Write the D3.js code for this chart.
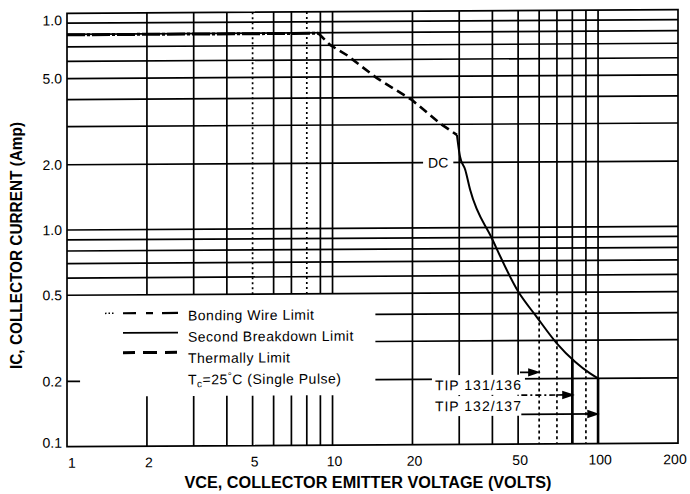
<!DOCTYPE html>
<html>
<head>
<meta charset="utf-8">
<script src="https://cdn.jsdelivr.net/npm/d3@7"></script>
<style>
  body { margin: 0; background: #fff; }
  svg { display: block; font-family: "Liberation Sans", Arial, sans-serif; }
</style>
</head>
<body>
<svg id="chart"></svg>
<script>
// values
const xTickValues = [1, 2, 5, 10, 20, 50, 100, 200];
const yTickValues = [10, 5, 2, 1, 0.5, 0.2, 0.1];
const yTickLabels = ["1.0", "5.0", "2.0", "1.0", "0.5", "0.2", "0.1"];
const xGridValues = [2, 3, 4, 5, 6, 7, 8, 9, 10, 20, 30, 40, 50, 60, 70, 80, 90, 100];
const yGridValues = [0.5, 0.6, 0.7, 0.8, 0.9, 1, 2, 3, 4, 5, 6, 7, 8, 9];
const yGridLowValues = [0.2, 0.3, 0.4];

// limit curves [VCE, IC]
const bondingWire = [[1, 7.96], [8.84, 7.96]];
const thermalLimit = [[8.84, 7.96], [9.79, 7.03], [11.3, 6.31], [14.7, 4.92], [19.9, 3.90], [25.4, 3.03], [29.4, 2.68]];
const secondBreakdown = [[29.4, 2.68], [30.2, 2.13], [31.6, 1.85], [33.0, 1.49], [39.8, 0.892], [50.1, 0.504],
  [58.7, 0.386], [69.9, 0.291], [81.9, 0.239], [93.3, 0.211], [100, 0.2]];

// device voltage limits and their labels
const tipVoltages = [80, 100];
const tipLabels = ["TIP 131/136", "TIP 132/137"];
const tipArrows = [
  { x0: 50.8, x1: 59.4, v: 0.214 },
  { x0: 69.9, x1: 79.8, v: 0.168 },
  { x0: 90.6, x1: 99.2, v: 0.137 },
];
const tipLeaders = [
  { x0: 51.4, x1: 69.9, v: 0.168, dashed: true },
  { x0: 51.4, x1: 100, v: 0.137, dashed: false },
];
const legendLabels = ["Bonding Wire Limit", "Second Breakdown Limit", "Thermally Limit"];

// constants
const width = 690;
const height = 494;
const ink = "#000";

const svg = d3.select('#chart')
  .attr('width', width)
  .attr('height', height);

// the scan is slightly sheared: right side sits a few px higher
const chart = svg.append('g')
  .attr('transform', 'skewY(-0.338)');

const x = d3.scaleLog().domain([1, 200]).range([67, 678]);
const y = d3.scaleLog().domain([0.1, 10]).range([447.1, 13.7]);

const grid = chart.append('g')
  .attr('stroke', ink)
  .attr('stroke-width', 1.7)
  .attr('fill', 'none');

// vertical grid, upper part (10 down to 0.5)
grid.selectAll('.vUp')
  .data(xGridValues)
  .enter().append('line')
  .attr('class', 'vUp')
  .attr('x1', d => x(d)).attr('x2', d => x(d))
  .attr('y1', y(10)).attr('y2', y(0.5))
  .attr('stroke-dasharray', d => (d === 5 || d === 8) ? '2,3' : null);

// vertical grid, lower part
grid.selectAll('.vLow')
  .data(xGridValues)
  .enter().append('line')
  .attr('class', 'vLow')
  .attr('x1', d => x(d)).attr('x2', d => x(d))
  .attr('y1', d => d <= 10 ? y(0.17) : y(0.5))
  .attr('y2', y(0.1))
  .attr('stroke-dasharray', d => (d === 60 || d === 70 || d === 90) ? '3,3' : null);

// horizontal grid, upper part
grid.selectAll('.hUp')
  .data(yGridValues)
  .enter().append('line')
  .attr('class', 'hUp')
  .attr('x1', x(1)).attr('x2', x(200))
  .attr('y1', d => y(d)).attr('y2', d => y(d));

// horizontal grid, lower right part
grid.selectAll('.hLow')
  .data(yGridLowValues)
  .enter().append('line')
  .attr('class', 'hLow')
  .attr('x1', x(14.5)).attr('x2', x(200))
  .attr('y1', d => y(d)).attr('y2', d => y(d));

// short stub of the 0.2 line at the left border
grid.append('line')
  .attr('x1', x(1)).attr('x2', x(1.12))
  .attr('y1', y(0.2)).attr('y2', y(0.2));

// frame
grid.append('rect')
  .attr('x', x(1)).attr('y', y(10))
  .attr('width', x(200) - x(1))
  .attr('height', y(0.1) - y(10));

// tick labels
chart.selectAll('.yLabel')
  .data(yTickValues)
  .enter().append('text')
  .attr('class', 'yLabel')
  .attr('x', x(1) - 5)
  .attr('y', d => Math.min(Math.max(y(d), y(10) + 7), y(0.1) - 4) + 5)
  .attr('text-anchor', 'end')
  .attr('font-size', 14)
  .text((d, i) => yTickLabels[i]);

chart.selectAll('.xLabel')
  .data(xTickValues)
  .enter().append('text')
  .attr('class', 'xLabel')
  .attr('x', d => Math.min(Math.max(x(d) + 2, x(1) + 5), x(200) - 3))
  .attr('y', y(0.1) + 21)
  .attr('text-anchor', 'middle')
  .attr('font-size', 14)
  .text(d => d);

// annotation texts with white boxes that knock out the grid behind them
const notes = chart.append('g').attr('font-size', 14);

const dcText = notes.append('text')
  .attr('x', x(22.9))
  .attr('y', y(2) + 5)
  .text('DC');

const tipText = notes.selectAll('.tip')
  .data(tipLabels)
  .enter().append('text')
  .attr('class', 'tip')
  .attr('x', x(24.3))
  .attr('y', (d, i) => y(0.2) + 11 + i * 21)
  .attr('letter-spacing', 1)
  .text(d => d);

function knockOut(node, padX, padY) {
  const b = node.getBBox();
  chart.insert('rect', () => notes.node())
    .attr('x', b.x - padX).attr('y', b.y - padY)
    .attr('width', b.width + 2 * padX).attr('height', b.height + 2 * padY)
    .attr('fill', '#fff');
}
knockOut(dcText.node(), 5, 0);
tipText.each(function() { knockOut(this, 3, 2); });

// limit curves
const line = d3.line().x(d => x(d[0])).y(d => y(d[1]));

chart.append('path')
  .attr('d', line(bondingWire))
  .attr('fill', 'none').attr('stroke', ink)
  .attr('stroke-width', 3)
  .attr('stroke-dasharray', '18,2,3,2');

chart.append('path')
  .attr('d', line(thermalLimit))
  .attr('fill', 'none').attr('stroke', ink)
  .attr('stroke-width', 2.6)
  .attr('stroke-dasharray', '9,5');

chart.append('path')
  .attr('d', line.curve(d3.curveMonotoneX)(secondBreakdown))
  .attr('fill', 'none').attr('stroke', ink)
  .attr('stroke-width', 2);

// IC on the second breakdown curve at a given VCE (log-log interpolation)
function breakdownAt(v) {
  for (let i = 1; i < secondBreakdown.length; i++) {
    const a = secondBreakdown[i - 1], b = secondBreakdown[i];
    if (v <= b[0]) {
      const t = (Math.log(v) - Math.log(a[0])) / (Math.log(b[0]) - Math.log(a[0]));
      return Math.exp(Math.log(a[1]) + t * (Math.log(b[1]) - Math.log(a[1])));
    }
  }
  return secondBreakdown[secondBreakdown.length - 1][1];
}

// voltage limits of the two device groups
chart.selectAll('.tipLimit')
  .data(tipVoltages)
  .enter().append('line')
  .attr('class', 'tipLimit')
  .attr('x1', d => x(d)).attr('x2', d => x(d))
  .attr('y1', d => y(breakdownAt(d))).attr('y2', y(0.1))
  .attr('stroke', ink).attr('stroke-width', 2.6);

chart.selectAll('.leader')
  .data(tipLeaders)
  .enter().append('line')
  .attr('class', 'leader')
  .attr('x1', d => x(d.x0)).attr('x2', d => x(d.x1))
  .attr('y1', d => y(d.v)).attr('y2', d => y(d.v))
  .attr('stroke', ink).attr('stroke-width', 1.7)
  .attr('stroke-dasharray', d => d.dashed ? '6,3,2,3' : null);

chart.selectAll('.arrow')
  .data(tipArrows)
  .enter().append('path')
  .attr('class', 'arrow')
  .attr('d', d => {
    const x0 = x(d.x0), x1 = x(d.x1), yy = y(d.v);
    return 'M' + x0 + ',' + yy + 'H' + (x1 - 8) +
      'M' + x1 + ',' + yy + 'L' + (x1 - 9) + ',' + (yy - 3) + 'L' + (x1 - 9) + ',' + (yy + 3) + 'Z';
  })
  .attr('stroke', ink).attr('stroke-width', 1.7).attr('fill', ink);

// legend
const legend = chart.append('g')
  .attr('font-size', 14)
  .attr('letter-spacing', 0.5);

const legendDash = ['13,10,7,9,16', null, '12,8,14,8'];
const legendWidth = [2.2, 1.8, 3];

legend.selectAll('line')
  .data(legendLabels)
  .enter().append('line')
  .attr('x1', 123).attr('x2', 178)
  .attr('y1', (d, i) => 314 + i * 19.7)
  .attr('y2', (d, i) => 314 + i * 19.7)
  .attr('stroke', ink)
  .attr('stroke-width', (d, i) => legendWidth[i])
  .attr('stroke-dasharray', (d, i) => legendDash[i]);

// dotted bits in front of the bonding wire sample
legend.append('line')
  .attr('x1', 105).attr('x2', 114)
  .attr('y1', 314).attr('y2', 314)
  .attr('stroke', ink).attr('stroke-width', 1.5)
  .attr('stroke-dasharray', '1.5,2');

legend.selectAll('text')
  .data(legendLabels)
  .enter().append('text')
  .attr('x', 188)
  .attr('y', (d, i) => 321.5 + i * 21.3)
  .text(d => d);

const tc = legend.append('text')
  .attr('x', 188)
  .attr('y', 385.5);
tc.append('tspan').text('T');
tc.append('tspan').attr('font-size', 10).attr('dy', 3).text('c');
tc.append('tspan').attr('dy', -3).text('=25');
tc.append('tspan').attr('font-size', 10).attr('dy', -5).text('°');
tc.append('tspan').attr('dy', 5).text('C (Single Pulse)');

// axis titles
svg.append('text')
  .attr('x', 368)
  .attr('y', 488)
  .attr('text-anchor', 'middle')
  .attr('font-size', 16)
  .attr('font-weight', 'bold')
  .attr('textLength', 367)
  .attr('lengthAdjust', 'spacingAndGlyphs')
  .text('VCE, COLLECTOR EMITTER VOLTAGE (VOLTS)');

svg.append('text')
  .attr('transform', 'translate(21.7,245.5) rotate(-90)')
  .attr('text-anchor', 'middle')
  .attr('font-size', 16)
  .attr('font-weight', 'bold')
  .attr('textLength', 247)
  .attr('lengthAdjust', 'spacingAndGlyphs')
  .text('IC, COLLECTOR CURRENT (Amp)');
</script>
</body>
</html>
